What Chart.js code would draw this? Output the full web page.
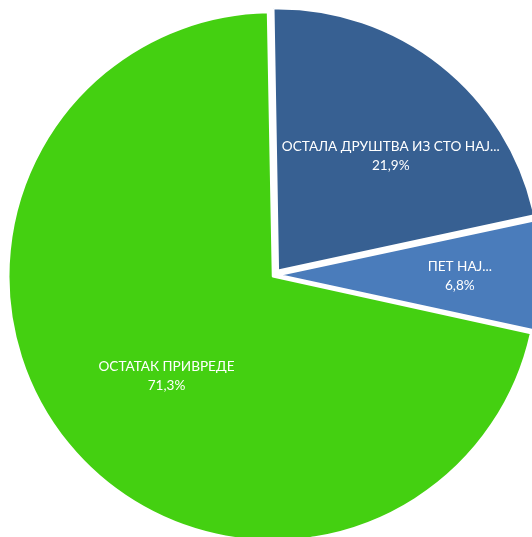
<!DOCTYPE html>
<html>
<head>
<meta charset="utf-8">
<script src="https://cdn.jsdelivr.net/npm/chart.js@4/dist/chart.umd.min.js"></script>
<style>
  html, body { margin: 0; padding: 0; background: #fff; overflow: hidden; }
  #wrap { position: relative; width: 532px; height: 537px; }
</style>
</head>
<body>
<div id="wrap"><canvas id="pie"></canvas></div>
<script>
// slices, clockwise from the top
const categories = ['ОСТАЛА ДРУШТВА ИЗ СТО НАЈ...', 'ПЕТ НАЈ...', 'ОСТАТАК ПРИВРЕДЕ']
const shares = [21.9, 6.8, 71.3]

const sliceColors = ['#376092', '#4A7CBB', '#44D011']
const sliceOffsets = [23, 18, 9]

// where the label sits inside each slice (fraction of radius, angle nudge in degrees)
const labelRadius = [0.615, 0.68, 0.545]
const labelShift = [5.9, 0, -3.6]

function pct(v) {
  return v.toFixed(1).replace('.', ',') + '%'
}

// draws the category + percentage inside each slice, like the excel data labels
const sliceLabels = {
  id: 'sliceLabels',
  afterDatasetsDraw(chart) {
    const ctx = chart.ctx
    const meta = chart.getDatasetMeta(0)
    ctx.save()
    ctx.fillStyle = '#ffffff'
    ctx.font = '13.6px Lato'
    ctx.textAlign = 'center'
    ctx.textBaseline = 'middle'
    meta.data.forEach((arc, i) => {
      const half = (arc.startAngle + arc.endAngle) / 2
      const fix = 1 - Math.sin(Math.min(Math.PI, arc.circumference))
      const off = (arc.options.offset / 4) * (1 + fix)
      const cx = arc.x + Math.cos(half) * off
      const cy = arc.y + Math.sin(half) * off
      const a = half + (labelShift[i] * Math.PI) / 180
      const r = arc.outerRadius * labelRadius[i]
      const x = cx + Math.cos(a) * r
      const y = cy + Math.sin(a) * r
      ctx.fillText(categories[i], x, y - 9)
      ctx.fillText(pct(shares[i]), x, y + 10)
    })
    ctx.restore()
  },
}

new Chart('pie', {
  type: 'pie',
  data: {
    labels: categories,
    datasets: [
      {
        data: shares,
        backgroundColor: sliceColors,
        borderColor: '#ffffff',
        borderWidth: 2,
        offset: sliceOffsets,
        hoverOffset: 0,
        clip: false,
      },
    ],
  },
  options: {
    responsive: true,
    maintainAspectRatio: false,
    animation: false,
    rotation: -1,
    radius: 262,
    layout: { padding: { left: 17, top: 13, right: 0, bottom: 0 } },
    plugins: {
      legend: { display: false },
      tooltip: { enabled: false },
    },
  },
  plugins: [sliceLabels],
})
</script>
</body>
</html>
